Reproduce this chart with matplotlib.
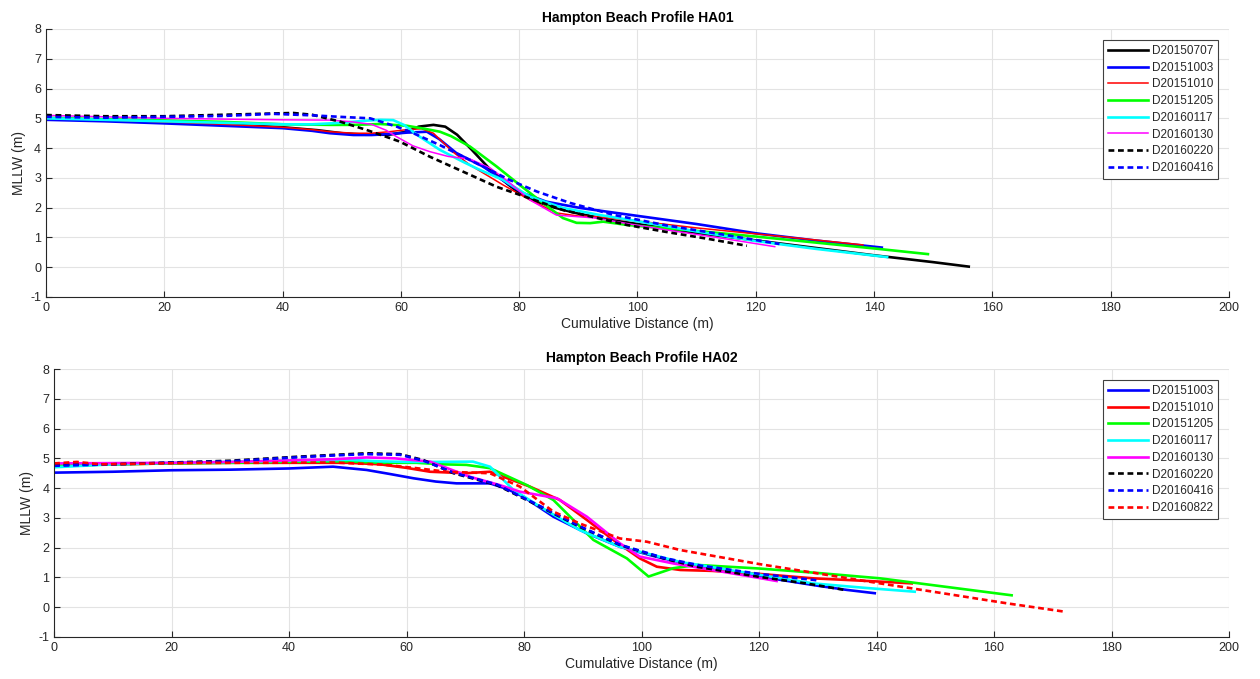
import matplotlib
matplotlib.use("Agg")
import matplotlib.pyplot as plt

plt.rcParams['font.family'] = ['Liberation Sans', 'DejaVu Sans']
plt.rcParams['axes.unicode_minus'] = False

# ---------------- Profile HA01 ----------------
ha01_labels = ["D20150707", "D20151003", "D20151010", "D20151205",
               "D20160117", "D20160130", "D20160220", "D20160416"]

ha01_x_20150707 = [0, 10, 20, 30, 40, 46, 50, 54, 58, 61, 63, 65.5, 67.5, 69.5, 72, 75, 78, 80,
                   83, 86, 90, 95, 100, 110, 120, 130, 140, 150, 156]
ha01_y_20150707 = [5.0, 4.93, 4.87, 4.8, 4.7, 4.6, 4.5, 4.45, 4.45, 4.55, 4.72, 4.78, 4.72, 4.45,
                   3.94, 3.3, 2.8, 2.5, 2.2, 2.0, 1.8, 1.6, 1.45, 1.15, 0.9, 0.65, 0.4, 0.17, 0.02]

ha01_x_20151003 = [0, 10, 20, 30, 40, 45, 48, 52, 55, 58, 61, 64.4, 66.5, 69.4, 73.9, 77, 80.6,
                   84.6, 90.3, 98.7, 110, 120, 130, 141.3]
ha01_y_20151003 = [4.95, 4.9, 4.83, 4.75, 4.67, 4.58, 4.5, 4.44, 4.44, 4.47, 4.52, 4.55, 4.3,
                   3.83, 3.38, 2.95, 2.49, 2.2, 1.99, 1.76, 1.45, 1.14, 0.9, 0.66]

ha01_x_20151010 = [0, 10, 20, 30, 40, 45, 48, 52, 55, 58, 61, 63.5, 65.5, 68.8, 71.7, 77.3, 81.8,
                   86.4, 90, 93.1, 100, 110, 120, 127.5, 138.1]
ha01_y_20151010 = [5.02, 4.95, 4.88, 4.8, 4.7, 4.62, 4.55, 4.5, 4.5, 4.55, 4.62, 4.65, 4.5, 3.87,
                   3.43, 2.76, 2.26, 1.82, 1.72, 1.7, 1.55, 1.32, 1.12, 0.97, 0.75]

ha01_x_20151205 = [0, 10, 20, 30, 40, 48, 52, 56.5, 61, 64, 66.6, 68.5, 71.7, 76.2, 80.1, 84,
                   87.4, 89.7, 92, 94.2, 98.2, 105, 110, 120, 130, 140, 149.1]
ha01_y_20151205 = [5.02, 4.97, 4.93, 4.88, 4.8, 4.78, 4.78, 4.81, 4.75, 4.65, 4.55, 4.4, 4.05,
                   3.38, 2.76, 2.16, 1.65, 1.49, 1.48, 1.53, 1.42, 1.3, 1.22, 1.03, 0.83, 0.63, 0.44]

ha01_x_20160117 = [0, 10, 20, 30, 40, 45, 50, 54, 56.5, 58.7, 60.5, 63.2, 66.6, 70.5, 73, 77.3,
                   81.8, 87.4, 93.7, 98.7, 110, 120, 130, 142.2]
ha01_y_20160117 = [5.0, 4.95, 4.9, 4.85, 4.8, 4.8, 4.85, 4.92, 4.95, 4.94, 4.78, 4.38, 3.94,
                   3.54, 3.3, 2.93, 2.37, 1.99, 1.75, 1.59, 1.2, 0.88, 0.62, 0.34]

ha01_x_20160130 = [0, 10, 20, 31.6, 40, 48, 51.4, 55, 57.5, 59.3, 62, 64.9, 68, 71.7, 75.1, 78,
                   81.8, 86.3, 93.1, 98.7, 105, 115, 123.2]
ha01_y_20160130 = [5.1, 5.05, 5.0, 4.97, 4.95, 4.94, 4.89, 4.8, 4.6, 4.38, 4.08, 3.88, 3.72, 3.63,
                   3.33, 2.9, 2.26, 1.75, 1.65, 1.45, 1.25, 0.95, 0.69]

ha01_x_20160220 = [0, 10, 20, 30, 41.8, 45, 49.7, 54.2, 59.8, 64.9, 70.5, 76.2, 80.1, 87.4, 98.2,
                   105, 112, 118.5]
ha01_y_20160220 = [5.11, 5.07, 5.07, 5.12, 5.18, 5.12, 4.89, 4.61, 4.22, 3.71, 3.21, 2.7, 2.43,
                   1.92, 1.42, 1.18, 0.95, 0.72]

ha01_x_20160416 = [0, 10, 20, 30, 38.4, 45, 49.7, 54.8, 59.3, 62.1, 66.6, 73.4, 78.4, 83, 88.6,
                   95.9, 105, 115, 124]
ha01_y_20160416 = [5.05, 5.02, 5.05, 5.08, 5.15, 5.1, 5.05, 5.0, 4.72, 4.5, 4.1, 3.43, 2.93,
                   2.54, 2.16, 1.76, 1.4, 1.08, 0.78]

# ---------------- Profile HA02 ----------------
ha02_labels = ["D20151003", "D20151010", "D20151205", "D20160117",
               "D20160130", "D20160220", "D20160416", "D20160822"]

ha02_x_20151003 = [0, 10, 20, 30, 40, 47.5, 53.2, 57, 61.2, 65, 68.5, 74.2, 77, 79.9, 85, 90.7,
                   96.3, 102, 110, 118, 123.6, 130, 135, 139.7]
ha02_y_20151003 = [4.52, 4.55, 4.6, 4.62, 4.66, 4.72, 4.61, 4.48, 4.33, 4.22, 4.16, 4.16, 3.98,
                   3.71, 3.04, 2.48, 2.03, 1.72, 1.35, 1.1, 0.92, 0.72, 0.58, 0.47]

ha02_x_20151010 = [0, 10, 20, 30, 40, 50, 55.5, 60, 64, 70, 74.2, 81, 86.1, 90.7, 95.2, 99.7,
                   102.6, 106.6, 112, 120, 129.2, 140.6, 146]
ha02_y_20151010 = [4.75, 4.8, 4.83, 4.85, 4.85, 4.85, 4.8, 4.68, 4.55, 4.5, 4.55, 4.05, 3.6,
                   2.93, 2.26, 1.64, 1.36, 1.25, 1.22, 1.12, 0.97, 0.86, 0.8]

ha02_x_20151205 = [0, 10, 20, 30, 40, 50, 55.5, 61.7, 66, 70.2, 74.2, 80.5, 85, 88.4, 91.8, 97.5,
                   101.2, 105.4, 109.4, 120, 130, 140.6, 150, 163]
ha02_y_20151205 = [4.75, 4.8, 4.83, 4.85, 4.88, 4.9, 4.85, 4.85, 4.8, 4.78, 4.67, 4.1, 3.6, 2.93,
                   2.26, 1.64, 1.03, 1.31, 1.42, 1.3, 1.15, 0.97, 0.73, 0.4]

ha02_x_20160117 = [0, 10, 20, 30, 40, 50, 55.5, 60, 65, 71.3, 74.2, 78.2, 82.7, 89.5, 96.3, 102,
                   106.6, 115, 129.2, 138, 146.5]
ha02_y_20160117 = [4.7, 4.8, 4.85, 4.88, 4.92, 4.95, 4.9, 4.88, 4.88, 4.89, 4.72, 3.94, 3.38,
                   2.59, 2.03, 1.75, 1.52, 1.25, 0.8, 0.65, 0.52]

ha02_x_20160130 = [0, 10, 20, 30, 40, 47.5, 53.2, 58, 64, 70.8, 75.9, 79.3, 85.6, 90.7, 96.3,
                   99.7, 105.4, 112, 118, 123]
ha02_y_20160130 = [4.83, 4.84, 4.85, 4.88, 4.93, 4.97, 5.03, 5.0, 4.89, 4.38, 4.1, 3.88, 3.66,
                   3.04, 2.15, 1.7, 1.47, 1.25, 1.05, 0.88]

ha02_x_20160220 = [0, 10, 20, 30, 41.9, 48, 53.2, 58.9, 62.9, 68, 75.4, 82.2, 89.5, 96.3, 103.7,
                   109.4, 120, 128, 134.6]
ha02_y_20160220 = [4.78, 4.8, 4.86, 4.92, 5.06, 5.12, 5.17, 5.14, 4.94, 4.5, 4.1, 3.43, 2.7,
                   2.09, 1.64, 1.36, 1.02, 0.8, 0.58]

ha02_x_20160416 = [0, 10, 20, 30, 40, 48, 53.2, 58.9, 62.9, 68, 75.4, 82.2, 89.5, 96.3, 103.7,
                   110, 120, 130]
ha02_y_20160416 = [4.75, 4.8, 4.85, 4.9, 5.02, 5.1, 5.14, 5.12, 4.92, 4.52, 4.12, 3.45, 2.72,
                   2.1, 1.66, 1.4, 1.12, 0.9]

ha02_x_20160822 = [0, 3.9, 7.9, 15, 24.9, 35, 47.5, 56, 61.7, 66.8, 74.2, 79.3, 85, 89.5, 96.3,
                   100.9, 106.6, 120, 140.6, 162.2, 172]
ha02_y_20160822 = [4.83, 4.88, 4.8, 4.82, 4.85, 4.85, 4.86, 4.79, 4.67, 4.55, 4.5, 4.05, 3.21,
                   2.81, 2.31, 2.2, 1.92, 1.45, 0.8, 0.13, -0.15]

x_ticks = list(range(0, 201, 20))
y_ticks = list(range(-1, 9))

BLACK, BLUE, RED, GREEN, CYAN, MAGENTA = "#000000", "#0000ff", "#ff0000", "#00ff00", "#00ffff", "#ff00ff"
DASH = (2.2, 1.4)

ha01_series = [
    (ha01_x_20150707, ha01_y_20150707, BLACK, "-", 1.9),
    (ha01_x_20151003, ha01_y_20151003, BLUE, "-", 1.9),
    (ha01_x_20151010, ha01_y_20151010, RED, "-", 1.1),
    (ha01_x_20151205, ha01_y_20151205, GREEN, "-", 1.9),
    (ha01_x_20160117, ha01_y_20160117, CYAN, "-", 1.9),
    (ha01_x_20160130, ha01_y_20160130, MAGENTA, "-", 1.1),
    (ha01_x_20160220, ha01_y_20160220, BLACK, "--", 1.9),
    (ha01_x_20160416, ha01_y_20160416, BLUE, "--", 1.9),
]
ha02_series = [
    (ha02_x_20151003, ha02_y_20151003, BLUE, "-", 1.9),
    (ha02_x_20151010, ha02_y_20151010, RED, "-", 1.9),
    (ha02_x_20151205, ha02_y_20151205, GREEN, "-", 1.9),
    (ha02_x_20160117, ha02_y_20160117, CYAN, "-", 1.9),
    (ha02_x_20160130, ha02_y_20160130, MAGENTA, "-", 1.9),
    (ha02_x_20160220, ha02_y_20160220, BLACK, "--", 1.9),
    (ha02_x_20160416, ha02_y_20160416, BLUE, "--", 1.9),
    (ha02_x_20160822, ha02_y_20160822, RED, "--", 1.9),
]

fig = plt.figure(figsize=(12.6, 6.79), dpi=100)
ax1 = fig.add_axes([0.0365, 0.5626, 0.9389, 0.3947])
ax2 = fig.add_axes([0.0429, 0.0619, 0.9325, 0.3946])

AXIS_COLOR = "#262626"


def draw_profile(ax, series, labels, title, ylabel_pad):
    for (xs, ys, color, style, lw), label in zip(series, labels):
        line, = ax.plot(xs, ys, color=color, linestyle=style, linewidth=lw, label=label)
        if style == "--":
            line.set_dashes(DASH)
    ax.set_xlim(0, 200)
    ax.set_ylim(-1, 8)
    ax.set_xticks(x_ticks)
    ax.set_yticks(y_ticks)
    ax.grid(True, color="#e3e3e3", linewidth=0.8)
    ax.set_axisbelow(True)
    for side in ("top", "right"):
        ax.spines[side].set_visible(False)
    for side in ("left", "bottom"):
        ax.spines[side].set_color(AXIS_COLOR)
        ax.spines[side].set_linewidth(0.8)
    ax.tick_params(direction="in", length=4, width=0.8, color=AXIS_COLOR,
                   labelcolor=AXIS_COLOR, labelsize=9)
    ax.set_xlabel("Cumulative Distance (m)", fontsize=10, color=AXIS_COLOR, labelpad=2)
    ax.set_ylabel("MLLW (m)", fontsize=10, color=AXIS_COLOR, labelpad=ylabel_pad)
    ax.set_title(title, fontsize=10, fontweight="bold", color="#000000", pad=5)
    leg = ax.legend(loc="upper right", fontsize=8.5, handlelength=3.4, handletextpad=0.3,
                    labelspacing=0.4, borderpad=0.45, borderaxespad=0.9,
                    fancybox=False, framealpha=1.0, edgecolor="#404040")
    leg.get_frame().set_linewidth(0.8)
    for text in leg.get_texts():
        text.set_color(AXIS_COLOR)


draw_profile(ax1, ha01_series, ha01_labels, "Hampton Beach Profile HA01", 3)
draw_profile(ax2, ha02_series, ha02_labels, "Hampton Beach Profile HA02", 3)

fig.savefig("out.png", dpi=100, facecolor="white")
